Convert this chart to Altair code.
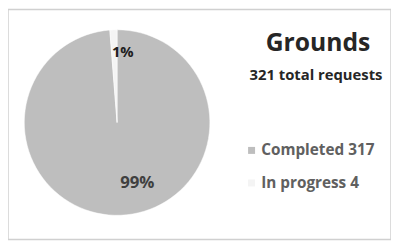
import altair as alt
import pandas as pd

categories = ["Completed", "In progress"]
counts = [317, 4]
pct_labels = ["99%", "1%"]
legend_labels = ["Completed 317", "In progress 4"]
title_text = "Grounds"
subtitle_text = "321 total requests"
colors = ["#bebebe", "#f4f4f4"]

df = pd.DataFrame({
    "cat": categories,
    "count": counts,
    "pct": pct_labels,
    "legend": legend_labels,
    "order": [0, 1],
})

W, H = 388, 233
CX, CY, R = 110.5, 114.5, 94

base = alt.Chart(df).encode(
    theta=alt.Theta("count:Q", stack=True),
    order=alt.Order("order:Q"),
)

pie = base.mark_arc(outerRadius=R, stroke="#ffffff", strokeWidth=0.5).encode(
    x=alt.value(CX),
    y=alt.value(CY),
    color=alt.Color(
        "legend:N",
        scale=alt.Scale(domain=legend_labels, range=colors),
        legend=alt.Legend(
            title=None,
            orient="none",
            legendX=239,
            legendY=135,
            symbolType="square",
            symbolSize=50,
            symbolStrokeWidth=0,
            labelFont="Open Sans",
            labelFontSize=15.5,
            labelFontWeight="bold",
            labelColor="#606060",
            rowPadding=16,
            symbolOffset=0,
            labelOffset=2,
        ),
    ),
)

lbl_big = base.mark_text(
    radius=64, dx=18, dy=-3, font="Open Sans", fontWeight="bold", fontSize=17, color="#404040"
).encode(x=alt.value(CX), y=alt.value(CY), text="pct:N")

lbl_small = base.mark_text(
    radius=71, dx=3, dy=0, font="Open Sans", fontWeight="bold", fontSize=15, color="#202020"
).encode(x=alt.value(CX), y=alt.value(CY), text="pct:N")

big = lbl_big.transform_filter(alt.datum.cat == "Completed")
small = lbl_small.transform_filter(alt.datum.cat == "In progress")

title_df = pd.DataFrame({"t": [title_text]})
sub_df = pd.DataFrame({"t": [subtitle_text]})

title = alt.Chart(title_df).mark_text(
    font="Open Sans", fontWeight="bold", fontSize=25, color="#262626", baseline="alphabetic"
).encode(x=alt.value(314), y=alt.value(42), text="t:N")

sub = alt.Chart(sub_df).mark_text(
    font="Open Sans", fontWeight="bold", fontSize=15, color="#262626", baseline="alphabetic"
).encode(x=alt.value(312), y=alt.value(71), text="t:N")

chart = alt.layer(pie, big, small, title, sub).properties(
    width=W, height=H, padding=0, autosize=alt.AutoSizeParams(type="none")
).configure_view(stroke="#d0d0d0", strokeWidth=1.5)

chart.save("out.html", embed_options={"renderer": "svg", "actions": False})
